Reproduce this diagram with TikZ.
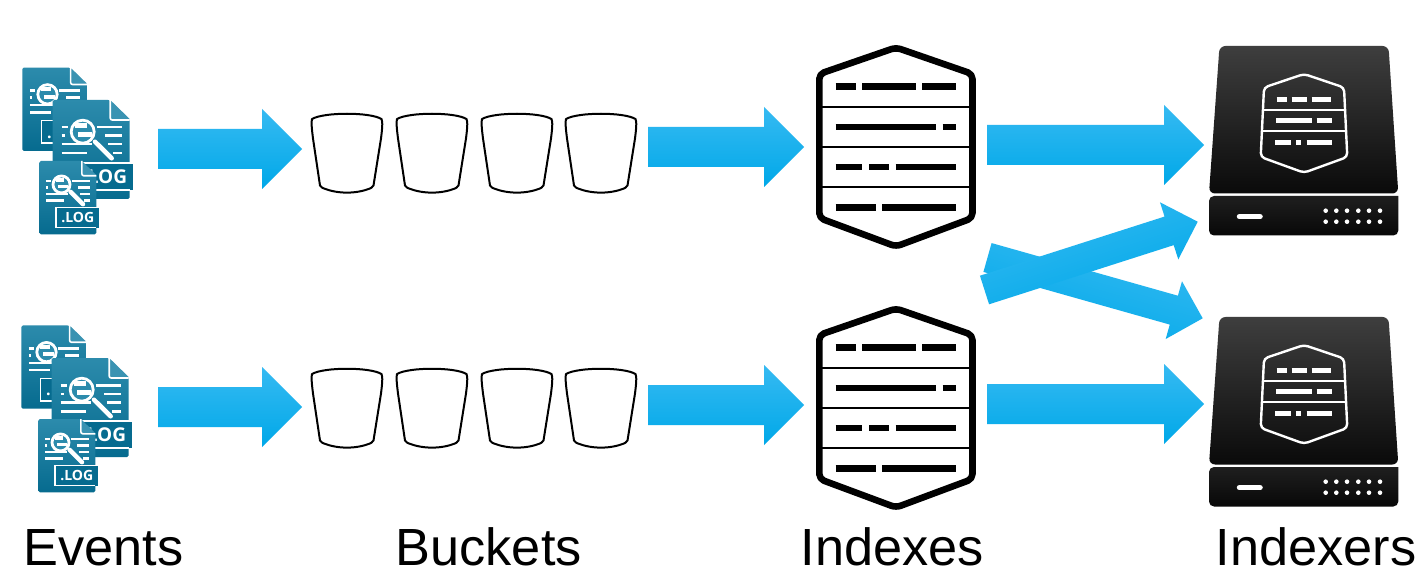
\documentclass[tikz,border=0pt]{standalone}
\usepackage{fontspec}
\setmainfont{Liberation Sans}
\newfontfamily\logfont{Open Sans}
\usetikzlibrary{calc}
\definecolor{arrowtop}{HTML}{36BAF2}
\definecolor{arrowmid}{HTML}{00B3F7}
\definecolor{arrowbot}{HTML}{00A8E8}
\definecolor{doctop}{HTML}{2C8BAC}
\definecolor{docbot}{HTML}{066B8F}
\definecolor{foldc}{HTML}{3A93B2}
\definecolor{bodytop}{HTML}{3E3E3E}
\definecolor{bodybot}{HTML}{0A0A0A}
\tikzset{
  caption/.style={font=\fontsize{52.3}{52.3}\selectfont,inner sep=0pt,anchor=base west,text=black},
  arrowshade/.style={top color=arrowtop,middle color=arrowmid,bottom color=arrowbot,draw=none},
  docline/.style={draw=white,line width=2.4pt},
  bucketline/.style={draw=black,line width=2pt,line join=round},
  indexrule/.style={draw=black,line width=2pt},
  indexdash/.style={draw=black,line width=6.6pt},
  shieldrule/.style={draw=white,line width=1.8pt},
  shielddash/.style={draw=white,line width=5pt},
}
% start, end, shaft half width, head half width, head length, shading angle
\newcommand{\blockarrow}[6]{%
  \coordinate (hd) at ($(#2)!#5pt!(#1)$);
  \shade[arrowshade,shading angle=#6]
    ($(#1)!#3pt!90:(#2)$) -- ($(hd)!#3pt!90:(#2)$) -- ($(hd)!#4pt!90:(#2)$) -- (#2)
    -- ($(hd)!#4pt!-90:(#2)$) -- ($(hd)!#3pt!-90:(#2)$) -- ($(#1)!#3pt!-90:(#2)$) -- cycle;
}
% log document in a 77 x 99 design box
\newcommand{\logdoc}[3]{%
  \begin{scope}[shift={(#1,#2)},scale=#3]
    \shade[top color=doctop,bottom color=docbot,rounded corners=1.5pt]
      (0,0) -- (57,0) [sharp corners] -- (77,20) [rounded corners=1.5pt] -- (77,99) -- (0,99) -- cycle;
    \fill[foldc] (58.5,1) -- (77,19) -- (58.5,19) -- cycle;
    \draw[white,line width=1.6pt,rounded corners=2pt] (57.5,0) -- (57.5,20) -- (77,20);
    \foreach \a/\b/\c in {9/15.6/27.3,44/69/27.3,9/12/35.7,52.3/69/35.7,9/39/44.3,55.6/69/44.3,9/34/53.3,60.6/69/53.3}
      \draw[docline] (\a,\c) -- (\b,\c);
    \fill[doctop] (30,31.7) circle (11pt);
    \fill[white] (22.3,23.3) rectangle (34,28);
    \fill[white] (25.6,32) rectangle (39,36.7);
    \draw[white,line width=2.8pt] (30,31.7) circle (11.5pt);
    \draw[white,line width=4.5pt,line cap=round] (42.3,41.7) -- (59,58.3);
    \fill[docbot] (23,63) rectangle (80.5,90);
    \draw[white,line width=1.7pt] (80.5,63) -- (23,63) -- (23,90) -- (77,90);
    \node[transform shape,text=white,inner sep=0pt] (lg) at (52,77) {\logfont\bfseries\fontsize{19}{19}\selectfont .LOG};
  \end{scope}
}
\newcommand{\bucket}[2]{%
  \begin{scope}[shift={(#1,#2)}]
    \draw[bucketline,fill=white]
      (0,5.5) .. controls (12,-1.5) and (58,-1.5) .. (69.5,5.5)
      .. controls (71,8) and (70,17) .. (69,25)
      -- (61.5,72) .. controls (60,74) and (59,74.5) .. (58,75)
      .. controls (44,80.5) and (26,80.5) .. (12,75)
      .. controls (11,74.5) and (9,74) .. (8,72)
      -- (1,25) .. controls (0,17) and (-1,8) .. (0,5.5) -- cycle;
  \end{scope}
}
\newcommand{\indexicon}[1]{%
  \begin{scope}[yshift=#1]
    \draw[black,line width=6.6pt,fill=white,rounded corners=5pt,line join=round]
      (896,47.5) -- (819.3,74) -- (819.3,218) -- (896,246.5) -- (972.5,218) -- (972.5,74) -- cycle;
    \draw[indexrule] (820,106.7) -- (972,106.7);
    \draw[indexrule] (820,147) -- (972,147);
    \draw[indexrule] (820,187.3) -- (972,187.3);
    \foreach \a/\b/\c in {835.7/855.7/86.7,862.3/915.7/86.7,922.3/955.7/86.7,
      835.7/935.7/127,942.7/955.7/127,
      835.7/862.3/167,869/889/167,895.7/955.7/167,
      835.7/875.7/207.3,882.3/955.7/207.3}
      \draw[indexdash] (\a,\c) -- (\b,\c);
  \end{scope}
}
\newcommand{\indexer}[1]{%
  \begin{scope}[yshift=#1]
    \shade[top color=bodytop,bottom color=bodybot,rounded corners=6pt]
      (1219.5,46) -- (1388.5,46) -- (1398.3,193.5) -- (1209,193.5) -- cycle;
    \shade[top color=black!88,bottom color=black!97,rounded corners=5pt]
      (1209,196) [sharp corners] -- (1398.3,196) [rounded corners=5pt] -- (1398.3,235.5) -- (1209,235.5) -- cycle;
    \draw[shieldrule,line width=2.4pt,rounded corners=4pt]
      (1304,74) -- (1264,87.5) -- (1260.7,157) -- (1304,172.7) -- (1347.3,157) -- (1344,87.5) -- cycle;
    \draw[shieldrule] (1263.5,110) -- (1344.5,110);
    \draw[shieldrule] (1262.5,131) -- (1345.5,131);
    \foreach \a/\b/\c in {1276.7/1286.7/99.5,1291.7/1306.7/99.5,1311.7/1331/99.5,
      1276/1311.7/120.7,1316.7/1331.7/120.7,
      1275/1291/142.7,1296/1301/142.7,1306.7/1332.3/142.7}
      \draw[shielddash] (\a,\c) -- (\b,\c);
    \draw[white,line width=5.5pt,line cap=round] (1239.5,216.7) -- (1260,216.7);
    \foreach \x in {1325.7,1336.3,1347,1358.3,1369,1380}
      \foreach \y in {210.7,221.7}
        \fill[white] (\x,\y) circle (2.3pt);
  \end{scope}
}
\begin{document}
\begin{tikzpicture}[x=1pt,y=-1pt]
  \useasboundingbox (0,0) rectangle (1427,585);
  \fill[white] (0,0) rectangle (1427,585);

  % Events
  \logdoc{22.3}{67.7}{0.84}
  \logdoc{52.7}{100}{1}
  \logdoc{39.3}{161}{0.74}
  \logdoc{21.3}{325.5}{0.84}
  \logdoc{51.7}{358}{1}
  \logdoc{38.3}{419}{0.74}

  % Buckets
  \foreach \bx in {312,397,482,566} {
    \bucket{\bx}{113.5}
    \bucket{\bx}{368.5}
  }

  % Indexes and indexers
  \indexicon{0pt}
  \indexicon{-261pt}
  \indexer{0pt}
  \indexer{-271pt}

  % Arrow ends
  \coordinate (e1s) at (158,149);   \coordinate (e1t) at (302,149);
  \coordinate (b1s) at (648,147);   \coordinate (b1t) at (804,147);
  \coordinate (i1s) at (987,145);   \coordinate (i1t) at (1204,145);
  \coordinate (e2s) at (158,407);   \coordinate (e2t) at (302,407);
  \coordinate (b2s) at (648,405);   \coordinate (b2t) at (804,405);
  \coordinate (i2s) at (987,404);   \coordinate (i2t) at (1204,404);
  \coordinate (xds) at (987.5,257.5); \coordinate (xdt) at (1202.7,318.3);
  \coordinate (xus) at (984.5,290);   \coordinate (xut) at (1197.7,221.7);

  \blockarrow{e1s}{e1t}{20}{40}{40}{0}
  \blockarrow{b1s}{b1t}{20}{40}{40}{0}
  \blockarrow{i1s}{i1t}{20}{40}{40}{0}
  \blockarrow{e2s}{e2t}{20}{40}{40}{0}
  \blockarrow{b2s}{b2t}{20}{40}{40}{0}
  \blockarrow{i2s}{i2t}{20}{40}{40}{0}
  \blockarrow{xds}{xdt}{15}{30}{30}{-16}
  \blockarrow{xus}{xut}{15}{30}{30}{18}

  % Captions
  \node[caption] (cap1) at (23.5,565) {Events};
  \node[caption] (cap2) at (395.5,565) {Buckets};
  \node[caption] (cap3) at (800.5,565) {Indexes};
  \node[caption] (cap4) at (1215.5,565) {Indexers};
\end{tikzpicture}
\end{document}
